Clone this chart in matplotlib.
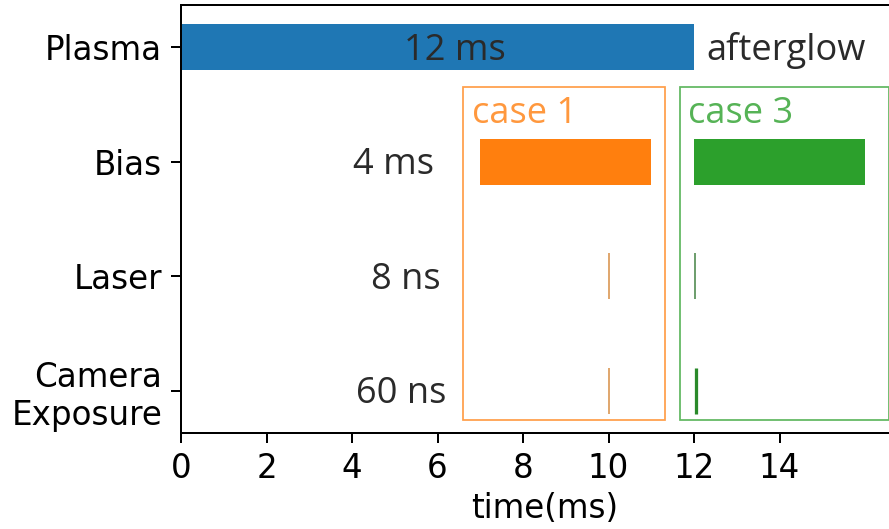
import matplotlib
matplotlib.use("Agg")
import matplotlib.pyplot as plt
from matplotlib.patches import Rectangle

plt.rcParams["font.family"] = "DejaVu Sans"

# channels, top to bottom
channels = ["Plasma", "Bias", "Laser", "Camera\nExposure"]
ypos = [3, 2, 1, 0]

# plasma pulse (ms)
plasma_start, plasma_len = 0, 12

# case 1 (during the pulse) and case 3 (afterglow) timings in ms
bias_start = [7, 12]
bias_len = [4, 4]
laser_t = [10, 12.02]
camera_t = [10, 12.05]
case_colors = ["tab:orange", "tab:green"]
case_names = ["case 1", "case 3"]
case_box_x = [(6.6, 11.32), (11.67, 16.55)]

duration_labels = ["12 ms", "4 ms", "8 ns", "60 ns"]
duration_x = [6.4, 4.97, 5.27, 5.15]

fig = plt.figure(figsize=(889 / 180, 529 / 180), dpi=180)
ax = fig.add_axes([0.2036, 0.1815, 0.8175, 0.809])
ann_font = ["Open Sans", "DejaVu Sans"]

h = 0.4
ax.barh(ypos[0], plasma_len, left=plasma_start, height=h, color="tab:blue")
for i in range(2):
    ax.barh(ypos[1], bias_len[i], left=bias_start[i], height=h,
            color=case_colors[i])
# laser and camera pulses are far too short to see, draw them as edges
ax.barh(ypos[2], [1e-6, 1e-6], left=laser_t, height=h, color="none",
        edgecolor=["#e0a870", "#6f9f6f"], linewidth=0.8)
ax.barh(ypos[3], [1e-6, 1e-6], left=camera_t, height=h, color="none",
        edgecolor=["#e0a870", "#2a8a2a"], linewidth=[0.8, 1.3])

# case boxes
for i in range(2):
    x0, x1 = case_box_x[i]
    ax.add_patch(Rectangle((x0, -0.26), x1 - x0, 2.91, fill=False,
                           edgecolor=case_colors[i], alpha=0.75, lw=0.7))
    ax.text(x0 + 0.2, 2.42, case_names[i], color=case_colors[i], alpha=0.8,
            fontsize=14.5, family=ann_font, va="center", ha="left")

for lab, x, y in zip(duration_labels, duration_x, ypos):
    ax.text(x, y - 0.03, lab, fontsize=14.5, family=ann_font,
            color="#2a2a2a", ha="center", va="center")
ax.text(12.3, ypos[0] - 0.03, "afterglow", fontsize=14.5, family=ann_font,
        color="#2a2a2a", ha="left", va="center")

ax.set_yticks(ypos)
ax.set_yticklabels(channels, fontsize=13)
ax.set_xticks(range(0, 16, 2))
ax.tick_params(axis="x", labelsize=13)
ax.tick_params(length=4)
ax.set_xlim(0, 17)
ax.set_ylim(-0.37, 3.37)
ax.set_xlabel("time(ms)", fontsize=13, labelpad=3)

fig.savefig("out.png", dpi=180)
